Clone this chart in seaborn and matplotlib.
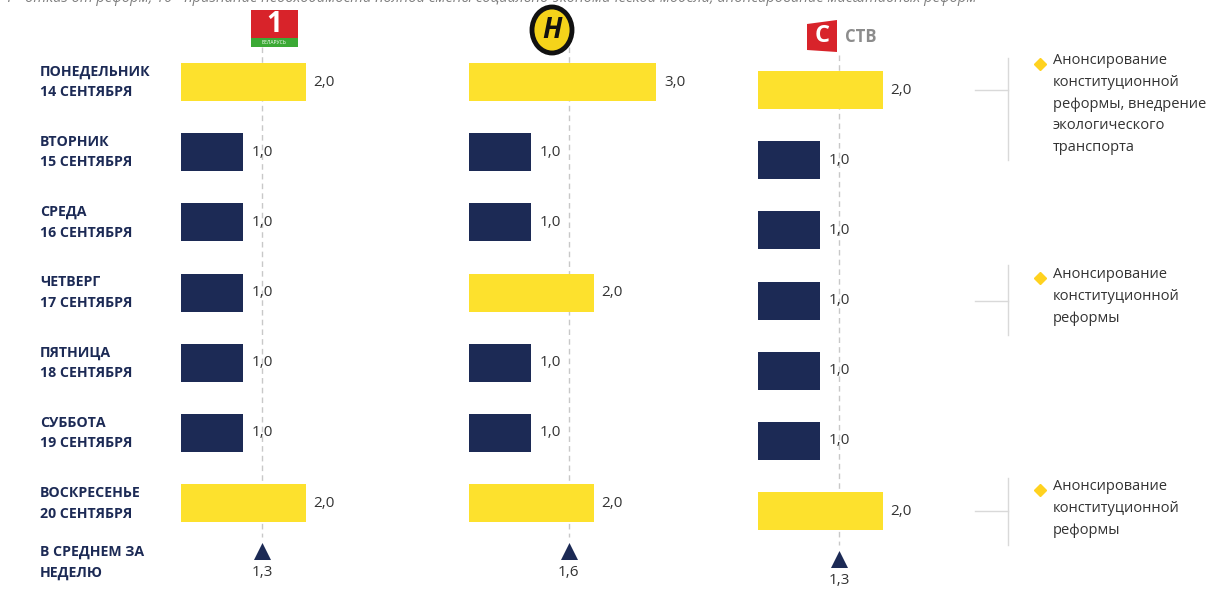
import matplotlib
matplotlib.use("Agg")
import matplotlib.pyplot as plt
import matplotlib.transforms as mtransforms
import seaborn as sns
import pandas as pd
from matplotlib.patches import Rectangle, Ellipse, Polygon
from matplotlib.lines import Line2D

# ---------------- data ----------------
days = ["ПОНЕДЕЛЬНИК\n14 СЕНТЯБРЯ", "ВТОРНИК\n15 СЕНТЯБРЯ", "СРЕДА\n16 СЕНТЯБРЯ",
        "ЧЕТВЕРГ\n17 СЕНТЯБРЯ", "ПЯТНИЦА\n18 СЕНТЯБРЯ", "СУББОТА\n19 СЕНТЯБРЯ",
        "ВОСКРЕСЕНЬЕ\n20 СЕНТЯБРЯ"]
mean_label = "В СРЕДНЕМ ЗА\nНЕДЕЛЮ"
channels = ["Беларусь 1", "ОНТ", "СТВ"]
values_b1 = [2.0, 1.0, 1.0, 1.0, 1.0, 1.0, 2.0]
values_ont = [3.0, 1.0, 1.0, 2.0, 1.0, 1.0, 2.0]
values_stv = [2.0, 1.0, 1.0, 1.0, 1.0, 1.0, 2.0]
means = [1.3, 1.6, 1.3]
notes = [
    (0, "Анонсирование\nконституционной\nреформы, внедрение\nэкологического\nтранспорта"),
    (3, "Анонсирование\nконституционной\nреформы"),
    (6, "Анонсирование\nконституционной\nреформы"),
]
top_note = ("1 - отказ от реформ, 10 - признание необходимости полной смены "
            "социально-экономической модели, анонсирование масштабных реформ")

YELLOW = "#FDE12D"
NAVY = "#1C2A55"
TXT = "#333333"
GRID = "#C8C8C8"

plt.rcParams["font.family"] = ["Open Sans", "DejaVu Sans"]

W, H = 1225, 590
fig = plt.figure(figsize=(W / 100, H / 100), dpi=100)


def fx(x):
    return x / W


def fy(y):
    return 1 - y / H


ROW = 70.2          # px per row
SCALE = 62.3        # px per unit
XMAX = 3.6
panel_x = [181, 469, 758]
panel_y0 = [82, 82, 90]
MEAN_ROW = 6.68

all_vals = [values_b1, values_ont, values_stv]
axes = []
for i, vals in enumerate(all_vals):
    x0 = panel_x[i]
    ax = fig.add_axes([fx(x0), 0, XMAX * SCALE / W, 1])
    df = pd.DataFrame({"day": days, "value": vals,
                       "hl": ["hi" if v > 1 else "lo" for v in vals]})
    sns.barplot(data=df, y="day", x="value", hue="hl", order=days,
                palette={"hi": YELLOW, "lo": NAVY}, orient="h", dodge=False,
                width=38 / ROW, legend=False, ax=ax, saturation=1)
    y0 = panel_y0[i]
    ax.set_xlim(0, XMAX)
    ax.set_ylim((H - y0) / ROW, -y0 / ROW)
    ax.axis("off")
    m = means[i]
    ax.plot([m, m], [-0.5, MEAN_ROW - 0.2], color=GRID, lw=1, ls=(0, (4, 3)), zorder=0)
    for j, v in enumerate(vals):
        ax.text(v + 8 / SCALE, j, f"{v:.1f}".replace(".", ","), va="center", ha="left",
                fontsize=11, color=TXT)
    ax.scatter([m], [MEAN_ROW], marker="^", s=150, color=NAVY, zorder=3, linewidths=0)
    ax.text(m, MEAN_ROW + 22 / ROW, f"{m:.1f}".replace(".", ","), va="center", ha="center",
            fontsize=11, color=TXT)
    axes.append(ax)

# day labels
ax1 = axes[0]
tr = mtransforms.blended_transform_factory(fig.transFigure, ax1.transData)
for j, d in enumerate(days):
    ax1.text(fx(40), j, d, transform=tr, ha="left", va="center", fontsize=10.2,
             fontweight="bold", color=NAVY, linespacing=1.6)
ax1.text(fx(40), MEAN_ROW + 0.17, mean_label, transform=tr, ha="left", va="center",
         fontsize=10.2, fontweight="bold", color=NAVY, linespacing=1.6)

# top cut-off note (cropped in the reference as well)
fig.text(fx(5), fy(-2), top_note, ha="left", va="center", fontsize=10.5,
         style="italic", color="#7F7F7F")

# right notes
note_spans = [(58, 160), (265, 335), (478, 545)]
note_first_line = [64, 278, 490]
for (row, txt), (ya, yb), yl in zip(notes, note_spans, note_first_line):
    ycen = panel_y0[2] + row * ROW
    fig.add_artist(Line2D([fx(1008), fx(1008)], [fy(ya), fy(yb)], color="#D9D9D9", lw=1))
    fig.add_artist(Line2D([fx(975), fx(1008)], [fy(ycen), fy(ycen)], color="#D9D9D9", lw=1))
    fig.add_artist(Line2D([fx(1040)], [fy(yl)], marker="D", markersize=6,
                          color="#FFD21F", lw=0))
    fig.text(fx(1053), fy(yl - 11), txt, ha="left", va="top", fontsize=10.5,
             color=TXT, linespacing=1.62)

# ---- logos (simple vector renditions) ----
# Беларусь 1
fig.add_artist(Rectangle((fx(251), fy(38)), 47 / W, 28 / H, color="#D8232A", lw=0))
fig.add_artist(Rectangle((fx(251), fy(47)), 47 / W, 9 / H, color="#3BA935", lw=0))
fig.text(fx(274.5), fy(25), "1", ha="center", va="center", fontsize=20,
         fontweight="bold", color="white")
fig.text(fx(274.5), fy(43), "БЕЛАРУСЬ", ha="center", va="center", fontsize=3.6,
         color="white")
# ОНТ
fig.add_artist(Ellipse((fx(552), fy(30)), 40 / W, 46 / H,
                       facecolor="#F5D31A", edgecolor="#111111", lw=3.5))
fig.text(fx(552), fy(31), "Н", ha="center", va="center", fontsize=20,
         fontweight="bold", style="italic", color="#111111")
# СТВ
fig.add_artist(Polygon([(fx(807), fy(24)), (fx(837), fy(20)), (fx(837), fy(52)),
                        (fx(807), fy(50))], closed=True, color="#D8232A", lw=0))
fig.text(fx(822), fy(36), "С", ha="center", va="center", fontsize=17,
         fontweight="bold", color="white")
fig.text(fx(845), fy(37), "СТВ", ha="left", va="center", fontsize=12,
         fontweight="bold", color="#8C8C8C")

fig.savefig("out.png", dpi=100)
